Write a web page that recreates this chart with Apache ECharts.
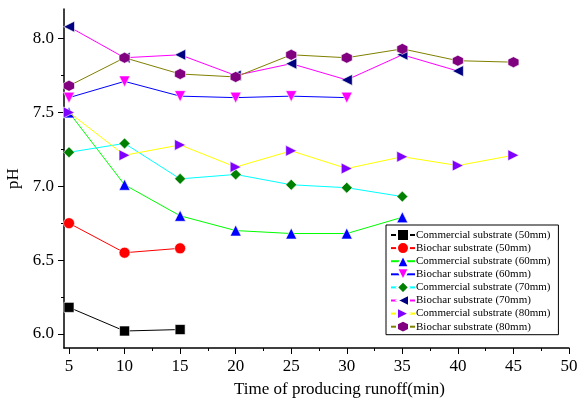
<!DOCTYPE html>
<html>
<head>
<meta charset="utf-8">
<script src="https://cdn.jsdelivr.net/npm/echarts@6/dist/echarts.min.js"></script>
<style>
html,body{margin:0;padding:0;background:#fff;}
#c{width:577px;height:402px;}
</style>
</head>
<body>
<div id="c"></div>
<script>
var xValues = [5, 10, 15, 20, 25, 30, 35, 40, 45];
var seriesNames = [
  'Commercial substrate (50mm)', 'Biochar substrate (50mm)',
  'Commercial substrate (60mm)', 'Biochar substrate (60mm)',
  'Commercial substrate (70mm)', 'Biochar substrate (70mm)',
  'Commercial substrate (80mm)', 'Biochar substrate (80mm)'
];
var commercial50 = [6.18, 6.02, 6.03];
var biochar50 = [6.75, 6.55, 6.58];
var commercial60 = [7.50, 7.01, 6.80, 6.70, 6.68, 6.68, 6.79];
var biochar60 = [7.60, 7.71, 7.61, 7.60, 7.61, 7.60];
var commercial70 = [7.23, 7.29, 7.05, 7.08, 7.01, 6.99, 6.93];
var biochar70 = [8.08, 7.87, 7.89, 7.75, 7.83, 7.72, 7.89, 7.78];
var commercial80 = [7.50, 7.21, 7.28, 7.13, 7.24, 7.12, 7.20, 7.14, 7.21];
var biochar80 = [7.68, 7.87, 7.76, 7.74, 7.89, 7.87, 7.93, 7.85, 7.84];
var xLabelValues = [5, 10, 15, 20, 25, 30, 35, 40, 45, 50];
var xMinorValues = [7.5, 12.5, 17.5, 22.5, 27.5, 32.5, 37.5, 42.5, 47.5];
var yLabelValues = [6.0, 6.5, 7.0, 7.5, 8.0];
var yMinorValues = [6.25, 6.75, 7.25, 7.75];

var allData = [commercial50, biochar50, commercial60, biochar60, commercial70, biochar70, commercial80, biochar80];
var lineColors = ['#000000', '#ff0000', '#00ff00', '#0000ff', '#00ffff', '#ff00ff', '#ffff00', '#808000'];
var markColors = ['#000000', '#ff0000', '#0000ff', '#ff00ff', '#008000', '#000080', '#8000ff', '#800080'];
var hexagon = 'path://M0,-1L0.866,-0.5L0.866,0.5L0,1L-0.866,0.5L-0.866,-0.5Z';
var symbols = ['rect', 'circle', 'triangle', 'triangle', 'diamond', 'triangle', 'triangle', hexagon];
var rotates = [0, 0, 0, 180, 0, 90, -90, 0];
var sizes = [10, 11, 11, 11, 11, 11, 11, 11];

function pairs(arr) {
  return arr.map(function (v, i) { return [xValues[i], v]; });
}

var serif = 'Liberation Serif, Times New Roman, serif';
var series = allData.map(function (d, i) {
  return {
    name: seriesNames[i],
    type: 'line',
    data: pairs(d),
    symbol: symbols[i],
    symbolRotate: rotates[i],
    symbolSize: sizes[i],
    showAllSymbol: true,
    lineStyle: { color: lineColors[i], width: 1 },
    itemStyle: { color: markColors[i], borderColor: '#fff', borderWidth: 0.6 },
    emphasis: { disabled: true },
    z: 2 + i,
    animation: false
  };
});

var chart = echarts.init(document.getElementById('c'), null, { renderer: 'canvas' });
chart.setOption({
  animation: false,
  backgroundColor: '#ffffff',
  grid: { left: 64, right: 8, top: 9, bottom: 54, containLabel: false, outerBoundsMode: 'none' },
  legend: {
    orient: 'vertical',
    left: 386,
    top: 225,
    width: 172,
    itemGap: -0.9,
    itemWidth: 24,
    itemHeight: 15,
    padding: [3, 8, 1, 4],
    borderColor: '#000',
    borderWidth: 1,
    backgroundColor: '#fff',
    textStyle: { fontFamily: serif, fontSize: 11, color: '#000', padding: [0, 0, 0, -4] },
    data: seriesNames
  },
  xAxis: [{
    type: 'value', min: 4.55, max: 50,
    name: 'Time of producing runoff(min)', nameLocation: 'middle', nameGap: 33,
    nameTextStyle: { fontFamily: serif, fontSize: 17, color: '#000', padding: [0, 0, 0, 46] },
    axisLine: { show: true, onZero: false, lineStyle: { color: '#000', width: 1.5 } },
    axisTick: { show: true, length: 6, customValues: xLabelValues, lineStyle: { color: '#000', width: 1 } },
    axisLabel: { customValues: xLabelValues, fontFamily: serif, fontSize: 17, color: '#000', margin: 10 },
    splitLine: { show: false }
  }, {
    type: 'value', min: 4.55, max: 50, position: 'bottom',
    axisLine: { show: false },
    axisTick: { show: true, length: 3, customValues: xMinorValues, lineStyle: { color: '#000', width: 1 } },
    axisLabel: { show: false },
    splitLine: { show: false }
  }],
  yAxis: [{
    type: 'value', min: 5.905, max: 8.2,
    name: 'pH', nameLocation: 'middle', nameGap: 42,
    nameTextStyle: { fontFamily: serif, fontSize: 17, color: '#000' },
    axisLine: { show: true, onZero: false, lineStyle: { color: '#000', width: 1.5 } },
    axisTick: { show: true, length: 6, customValues: yLabelValues, lineStyle: { color: '#000', width: 1 } },
    axisLabel: { customValues: yLabelValues, fontFamily: serif, fontSize: 17, color: '#000', margin: 10,
      formatter: function (v) { return v.toFixed(1); } },
    splitLine: { show: false }
  }, {
    type: 'value', min: 5.905, max: 8.2, position: 'left',
    axisLine: { show: false },
    axisTick: { show: true, length: 3, customValues: yMinorValues, lineStyle: { color: '#000', width: 1 } },
    axisLabel: { show: false },
    splitLine: { show: false }
  }],
  series: series
});
</script>
</body>
</html>
